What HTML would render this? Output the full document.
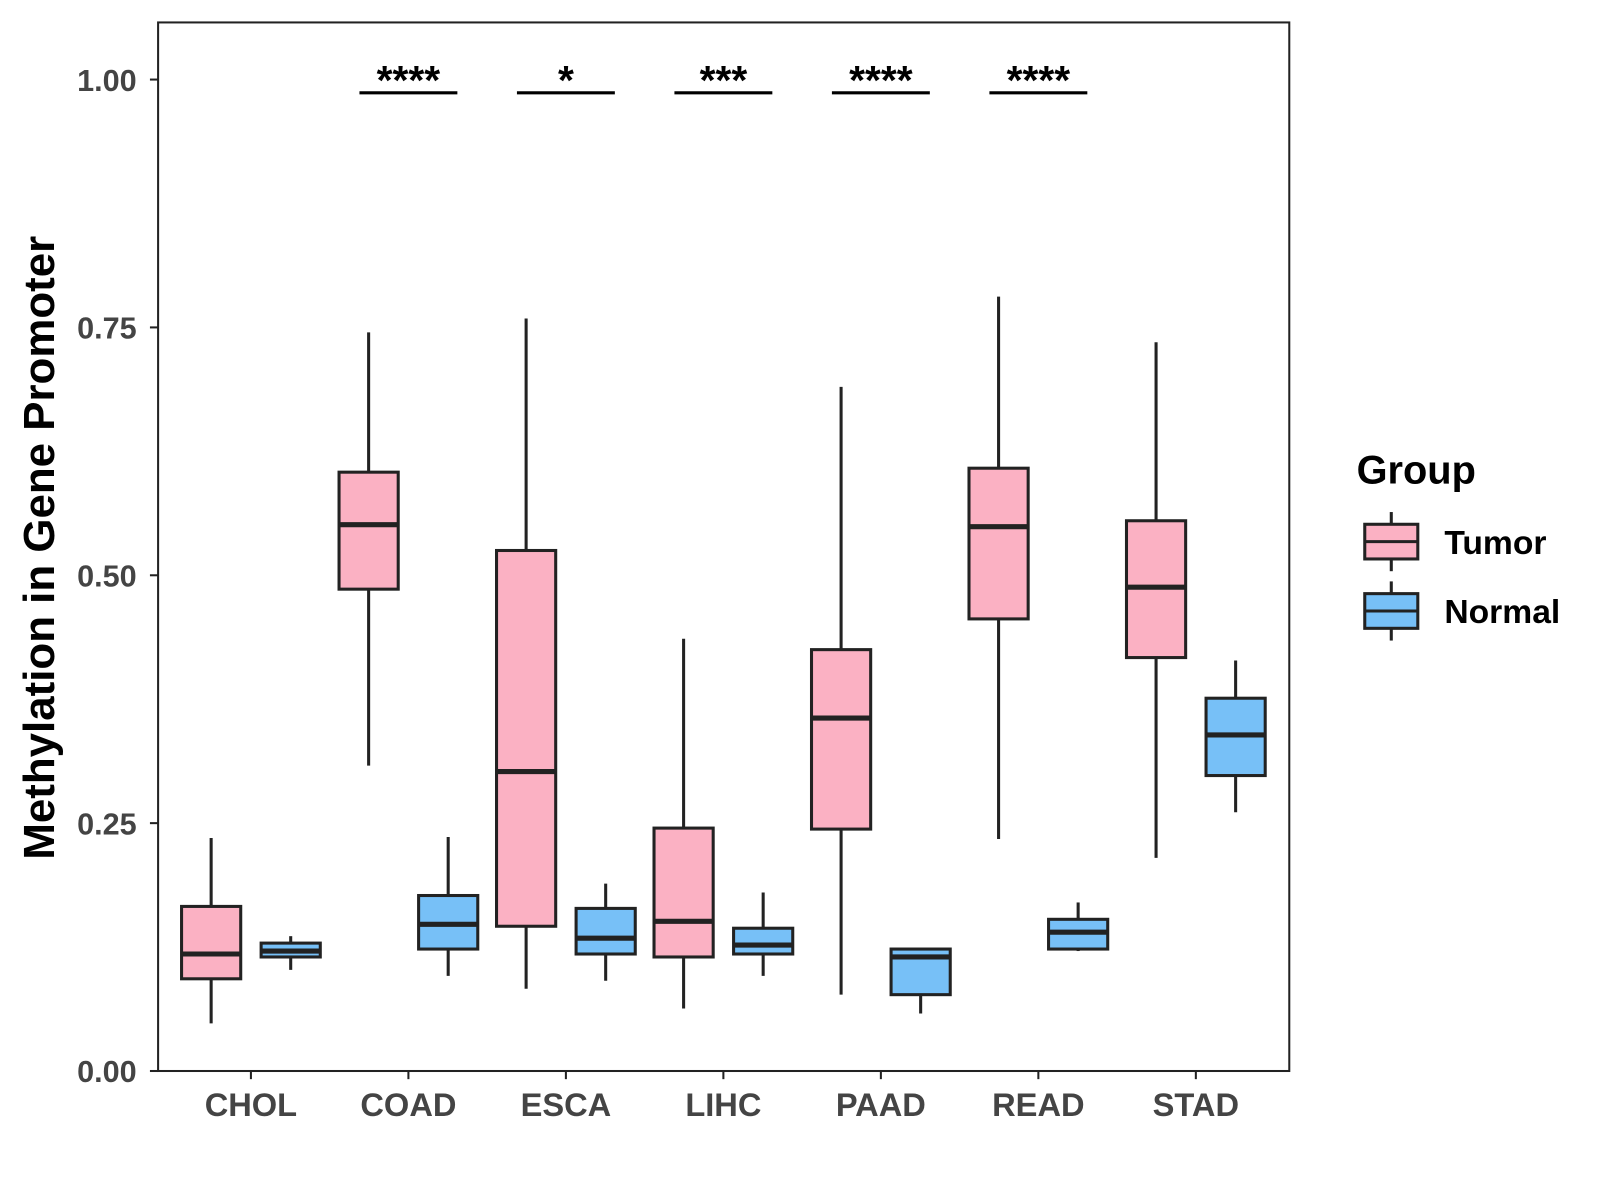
<!DOCTYPE html>
<html><head><meta charset="utf-8"><style>
html,body{margin:0;padding:0;background:#fff;}
svg{display:block;font-family:"Liberation Sans",Arial,sans-serif;}
</style></head><body>
<svg id="chart" width="1600" height="1200" viewBox="0 0 1600 1200" xmlns="http://www.w3.org/2000/svg">
<g transform="scale(1.02)">
<rect x="155" y="22" width="1109" height="1028" fill="#fff" stroke="#222" stroke-width="2"/>
<g id="axes"></g>
<g id="boxes"></g>
<g id="sig"></g>
<text transform="translate(53,537) rotate(-90)" text-anchor="middle" font-size="43" font-weight="bold" fill="#000">Methylation in Gene Promoter</text>
<g>
<text x="1330" y="474" font-size="39" font-weight="bold" fill="#000">Group</text>
<g>
<line x1="1364" y1="502" x2="1364" y2="560" stroke="#222" stroke-width="3"/>
<rect x="1338" y="514" width="52" height="34" fill="#FBB1C3" stroke="#222" stroke-width="3"/>
<line x1="1338" y1="531" x2="1390" y2="531" stroke="#222" stroke-width="3"/>
<text x="1416" y="543" font-size="33" font-weight="bold" fill="#000">Tumor</text>
</g>
<g>
<line x1="1364" y1="570" x2="1364" y2="628" stroke="#222" stroke-width="3"/>
<rect x="1338" y="582" width="52" height="34" fill="#77C0F7" stroke="#222" stroke-width="3"/>
<line x1="1338" y1="599" x2="1390" y2="599" stroke="#222" stroke-width="3"/>
<text x="1416" y="611" font-size="33" font-weight="bold" fill="#000">Normal</text>
</g>
</g>
</g>
</svg>
<script>
const categories = ["CHOL","COAD","ESCA","LIHC","PAAD","READ","STAD"];
// [low, q1, median, q3, high]
const tumorStats = [
  [0.048,0.093,0.118,0.166,0.235],
  [0.308,0.486,0.551,0.604,0.745],
  [0.083,0.146,0.302,0.525,0.759],
  [0.063,0.115,0.151,0.245,0.436],
  [0.077,0.244,0.356,0.425,0.690],
  [0.234,0.456,0.549,0.608,0.781],
  [0.215,0.417,0.488,0.555,0.735]
];
const normalStats = [
  [0.102,0.115,0.121,0.129,0.136],
  [0.096,0.123,0.148,0.177,0.236],
  [0.091,0.118,0.134,0.164,0.189],
  [0.096,0.118,0.127,0.144,0.180],
  [0.058,0.077,0.115,0.123,0.123],
  [0.121,0.123,0.140,0.153,0.170],
  [0.261,0.298,0.339,0.376,0.414]
];
const sigLabels = ["","****","*","***","****","****",""];
const yTicks = [0,0.25,0.5,0.75,1.0];
const yTickLabels = ["0.00","0.25","0.50","0.75","1.00"];

const NS="http://www.w3.org/2000/svg";
const y = v => 1050 - v*972;
const x = i => 246 + i*154.4;
function mk(tag, attrs, parent){const e=document.createElementNS(NS,tag);for(const k in attrs)e.setAttribute(k,attrs[k]);parent.appendChild(e);return e;}
const axes=document.getElementById('axes'), boxes=document.getElementById('boxes'), sig=document.getElementById('sig');

yTicks.forEach((v,i)=>{
  const t=mk('line',{x1:147,x2:155,y1:y(v),y2:y(v),stroke:'#222','stroke-width':2},axes);
  
  
  const l=mk('text',{x:134,y:y(v)+11,'text-anchor':'end','font-size':30,'font-weight':'bold',fill:'#444'},axes);
  l.textContent=yTickLabels[i];
  
  
});
categories.forEach((c,i)=>{
  const t=mk('line',{x1:x(i),x2:x(i),y1:1050,y2:1058,stroke:'#222','stroke-width':2},axes);
  
  
  const l=mk('text',{x:x(i),y:1094,'text-anchor':'middle','font-size':32,'font-weight':'bold',fill:'#444'},axes);
  l.textContent=c;
  
  
});
function drawBox(cx,s,fill,name){
  const g=mk('g',{},boxes);
  
  
  mk('line',{x1:cx,x2:cx,y1:y(s[4]),y2:y(s[0]),stroke:'#222','stroke-width':3},g);
  mk('rect',{x:cx-29,y:y(s[3]),width:58,height:y(s[1])-y(s[3]),fill:fill,stroke:'#222','stroke-width':3},g);
  mk('line',{x1:cx-29,x2:cx+29,y1:y(s[2]),y2:y(s[2]),stroke:'#222','stroke-width':5},g);
}
categories.forEach((c,i)=>{
  drawBox(x(i)-39,tumorStats[i],'#FBB1C3','box-'+c.toLowerCase()+'-tumor');
  drawBox(x(i)+39,normalStats[i],'#77C0F7','box-'+c.toLowerCase()+'-normal');
  if(sigLabels[i]){
    const b=mk('line',{x1:x(i)-48,x2:x(i)+48,y1:91,y2:91,stroke:'#000','stroke-width':3},sig);
    
    
    const t=mk('text',{x:x(i),y:92,'text-anchor':'middle','font-size':40,'font-weight':'bold',fill:'#000'},sig);
    t.textContent=sigLabels[i];
    
    
  }
});
</script>
</body></html>
